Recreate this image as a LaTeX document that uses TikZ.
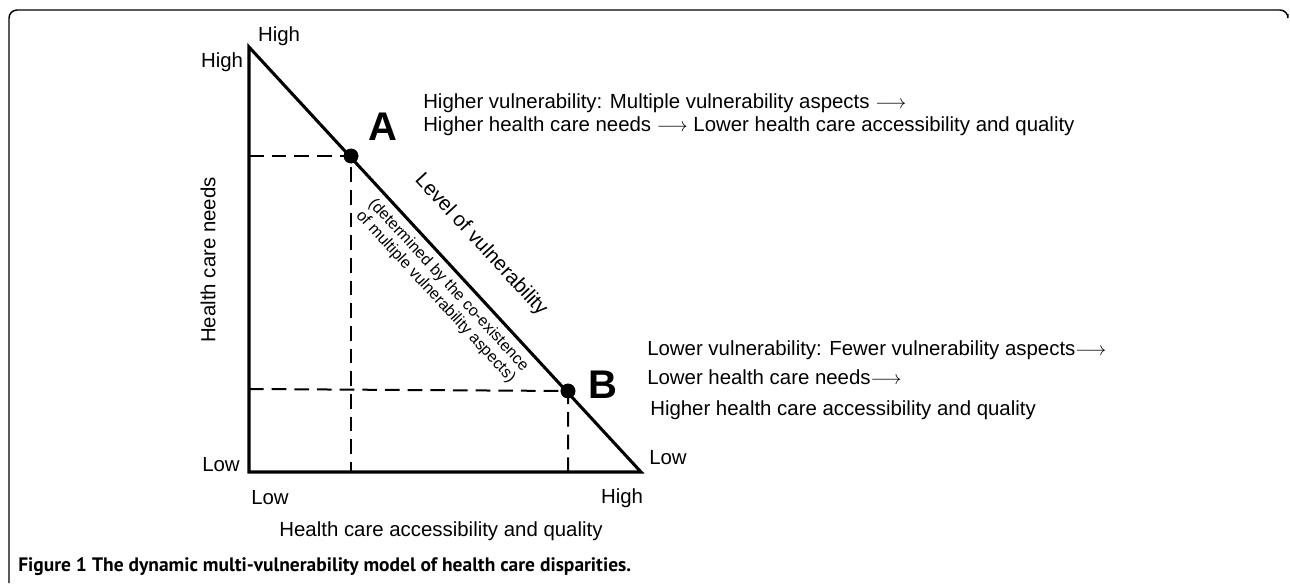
\documentclass[tikz,border=0pt]{standalone}
\usepackage{fontspec}
\setmainfont{Liberation Sans}
\newfontfamily\capfont{PT Sans}
\begin{document}
\begin{tikzpicture}[x=0.75pt,y=-0.75pt,
  axis/.style={line width=2.3pt,line join=miter},
  dline/.style={line width=1.5pt,dash pattern=on 11pt off 6pt},
  dot/.style={circle,fill=black,inner sep=0pt,minimum size=11pt},
  lbl/.style={inner sep=0pt,font=\fontsize{15.3}{18}\selectfont},
  big/.style={inner sep=0pt,font=\fontsize{30}{32}\selectfont\bfseries},
  small/.style={inner sep=0pt,font=\fontsize{12}{14}\selectfont},
  frame/.style={line width=1.1pt,rounded corners=6pt}]
\useasboundingbox (0,0) rectangle (1290,583);
% frame
\draw[frame] (9,583) -- (9,10) -- (1288,10) -- (1288,14);
% axes
\coordinate (T) at (249,47);
\coordinate (O) at (249,472);
\coordinate (R) at (641,472);
\draw[axis] (T) -- (O) -- (R) -- cycle;
% points
\node[dot] (A) at (351,156) {};
\node[dot] (B) at (568,391) {};
\coordinate (Ay) at (249,156);
\coordinate (Ax) at (351,472);
\coordinate (By) at (249,389);
\coordinate (Bx) at (568,472);
\draw[dline] (Ay) -- (A.center) -- (Ax);
\draw[dline] (By) -- (B.center) -- (Bx);
\node[dot] at (A) {};
\node[dot] at (B) {};
% labels
\node[big] (la) at (383,127) {A};
\node[big] (lb) at (603,385) {B};
\node[lbl] (h1) at (279,36) {High};
\node[lbl] (h2) at (222,62) {High};
\node[lbl] (l1) at (221,465) {Low};
\node[lbl] (l2) at (668,458) {Low};
\node[lbl] (l3) at (270,498) {Low};
\node[lbl] (h3) at (622,498) {High};
\node[lbl] (xl) at (441,531) {Health care accessibility and quality};
\node[lbl,rotate=90] (yl) at (208,260) {Health care needs};
\node[lbl,rotate=-47.3] (lv) at (481,245) {Level of vulnerability};
\node[small,rotate=-47.3,align=center] (det) at (442,291) {(determined by the co-existence\\[-1pt]of multiple vulnerability aspects)};
% right texts
\node[lbl,anchor=base west] (u1) at (423,108) {Higher vulnerability: Multiple vulnerability aspects $\longrightarrow$};
\node[lbl,anchor=base west] (u2) at (423,131) {Higher health care needs $\longrightarrow$ Lower health care accessibility and quality};
\node[lbl,anchor=base west] (d1) at (647,355) {Lower vulnerability: Fewer vulnerability aspects$\longrightarrow$};
\node[lbl,anchor=base west] (d2) at (647,384) {Lower health care needs$\longrightarrow$};
\node[lbl,anchor=base west] (d3) at (650,415) {Higher health care accessibility and quality};
% caption
\node[anchor=base west,inner sep=0pt,font=\capfont\fontsize{14.6}{16}\selectfont] (cap) at (18,571) {\textbf{Figure 1} \textbf{The dynamic multi-vulnerability model of health care disparities.}};
\end{tikzpicture}
\end{document}
